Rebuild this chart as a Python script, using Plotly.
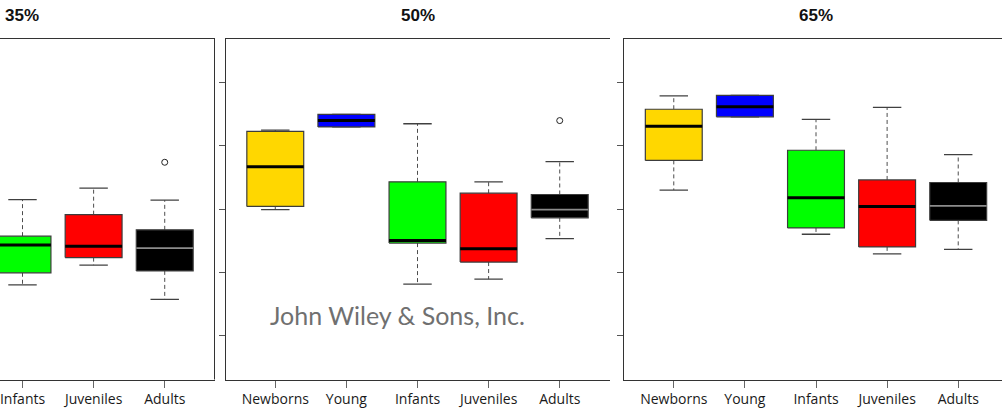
import plotly.graph_objects as go

# Age classes shown on every panel and their fill colours
groups = ["Newborns", "Young", "Infants", "Juveniles", "Adults"]
fill_colors = ["#FFD700", "#0000FF", "#00FF00", "#FF0000", "#000000"]
panel_titles = ["35%", "50%", "65%"]
y_ticks = [1, 2, 3, 4, 5]

# 35% panel (Newborns and Young fall outside the visible area)
low_35 = [None, None, 1.80, 2.11, 1.57]
q1_35 = [None, None, 1.99, 2.23, 2.02]
med_35 = [None, None, 2.43, 2.41, 2.38]
q3_35 = [None, None, 2.57, 2.91, 2.67]
high_35 = [None, None, 3.15, 3.33, 3.14]
out_35 = [[], [], [], [], [3.74]]

# 50% panel
low_50 = [2.99, 4.30, 1.81, 1.89, 2.53]
q1_50 = [3.04, 4.30, 2.46, 2.16, 2.86]
med_50 = [3.67, 4.40, 2.50, 2.37, 2.99]
q3_50 = [4.23, 4.50, 3.43, 3.25, 3.23]
high_50 = [4.25, 4.50, 4.35, 3.43, 3.75]
out_50 = [[], [], [], [], [4.40]]

# 65% panel
low_65 = [3.30, 4.46, 2.60, 2.29, 2.36]
q1_65 = [3.77, 4.46, 2.70, 2.40, 2.82]
med_65 = [4.31, 4.62, 3.18, 3.04, 3.05]
q3_65 = [4.58, 4.80, 3.93, 3.46, 3.42]
high_65 = [4.79, 4.80, 4.42, 4.61, 3.86]
out_65 = [[], [], [], [], []]

panels = [
    (low_35, q1_35, med_35, q3_35, high_35, out_35),
    (low_50, q1_50, med_50, q3_50, high_50, out_50),
    (low_65, q1_65, med_65, q3_65, high_65, out_65),
]

W, H = 1002, 409
BOX_HALF = 0.4      # boxwex 0.8
STAPLE_HALF = 0.2   # staples half the box width
PX_PER_UNIT = 384 / 5.4

# horizontal placement of the three plotting regions (pixels)
x_doms_px = [(0, 214.5), (225.5, 609.5), (624, W)]
x_ranges = [
    (5.7 - 214.5 / PX_PER_UNIT, 5.7),
    (0.3, 5.7),
    (0.3, 0.3 + (W - 624) / PX_PER_UNIT),
]
y_dom = (1 - 379.5 / H, 1 - 38.5 / H)

fig = go.Figure()

for k, (lo, q1, md, q3, hi, outs) in enumerate(panels):
    xa = "x" if k == 0 else f"x{k + 1}"
    ya = "y" if k == 0 else f"y{k + 1}"
    for i, g in enumerate(groups):
        if md[i] is None:
            continue
        p = i + 1
        # whiskers (dashed)
        fig.add_trace(go.Scatter(
            x=[p, p, None, p, p], y=[q3[i], hi[i], None, q1[i], lo[i]],
            mode="lines", line=dict(color="#4d4d4d", width=1, dash="4px,3px"),
            xaxis=xa, yaxis=ya, hoverinfo="skip", showlegend=False))
        # staples
        fig.add_trace(go.Scatter(
            x=[p - STAPLE_HALF, p + STAPLE_HALF, None, p - STAPLE_HALF, p + STAPLE_HALF],
            y=[hi[i], hi[i], None, lo[i], lo[i]],
            mode="lines", line=dict(color="#404040", width=1.3),
            xaxis=xa, yaxis=ya, hoverinfo="skip", showlegend=False))
        # box
        fig.add_trace(go.Scatter(
            x=[p - BOX_HALF, p + BOX_HALF, p + BOX_HALF, p - BOX_HALF, p - BOX_HALF],
            y=[q1[i], q1[i], q3[i], q3[i], q1[i]],
            mode="lines", fill="toself", fillcolor=fill_colors[i],
            line=dict(color="#3c3c3c", width=1.2),
            xaxis=xa, yaxis=ya, hoverinfo="skip", showlegend=False))
        # median
        med_color = "#8c8c8c" if fill_colors[i] == "#000000" else "#000000"
        med_width = 1.6 if fill_colors[i] == "#000000" else 3
        fig.add_trace(go.Scatter(
            x=[p - BOX_HALF, p + BOX_HALF], y=[md[i], md[i]],
            mode="lines", line=dict(color=med_color, width=med_width),
            xaxis=xa, yaxis=ya, hoverinfo="skip", showlegend=False))
        # outliers
        if outs[i]:
            fig.add_trace(go.Scatter(
                x=[p] * len(outs[i]), y=outs[i], mode="markers",
                marker=dict(symbol="circle-open", size=6, color="#222222",
                            line=dict(width=1)),
                xaxis=xa, yaxis=ya, hoverinfo="skip", showlegend=False))

axis_font = dict(family="Open Sans", size=14, color="#1a1a1a")
layout = dict(
    width=W, height=H, margin=dict(l=0, r=0, t=0, b=0),
    paper_bgcolor="white", plot_bgcolor="white",
    showlegend=False,
)

for k in range(3):
    sx = "" if k == 0 else str(k + 1)
    x0, x1 = x_doms_px[k]
    layout[f"xaxis{sx}"] = dict(
        domain=[x0 / W, min(x1 / W, 1.0)], range=list(x_ranges[k]),
        anchor=f"y{sx}", tickmode="array", tickvals=[1, 2, 3, 4, 5],
        ticktext=groups, ticks="outside", ticklen=7, tickwidth=1,
        tickcolor="#666666", tickfont=axis_font, ticklabeloverflow="allow",
        showline=True, mirror=True, linecolor="#333333", linewidth=1,
        showgrid=False, zeroline=False, fixedrange=True,
    )
    layout[f"yaxis{sx}"] = dict(
        domain=list(y_dom), range=[0.3, 5.7], anchor=f"x{sx}",
        tickmode="array", tickvals=y_ticks, showticklabels=False,
        ticks="" if k == 0 else "outside", ticklen=6, tickwidth=1,
        tickcolor="#555555",
        showline=(k != 0), mirror=False, linecolor="#333333", linewidth=1,
        showgrid=False, zeroline=False, fixedrange=True,
    )

fig.update_layout(**layout)

# right-hand border of the 35% panel
fig.add_shape(type="line", xref="x domain", yref="y domain",
              x0=1, x1=1, y0=0, y1=1, line=dict(color="#333333", width=1))

# panel titles
title_centres = [22, 417.5, 816]
for t, cx in zip(panel_titles, title_centres):
    fig.add_annotation(text=f"<b>{t}</b>", x=cx / W, y=1 - 15 / H,
                       xref="paper", yref="paper", showarrow=False,
                       xanchor="center", yanchor="middle",
                       font=dict(family="Liberation Sans", size=17, color="#111111"))

# publisher mark
fig.add_annotation(text="John Wiley &amp; Sons, Inc.", x=397.5 / W, y=1 - 315 / H,
                   xref="paper", yref="paper", showarrow=False,
                   xanchor="center", yanchor="middle",
                   font=dict(family="Lato", size=25, color="#707070"))

fig.write_html("out.html")
